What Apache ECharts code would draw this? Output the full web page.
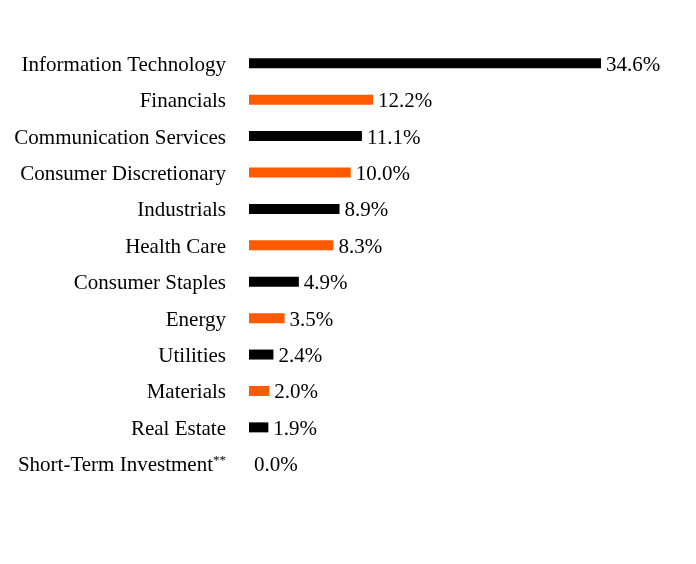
<!DOCTYPE html>
<html>
<head>
    <meta charset='utf-8'/>
    <title>Sector Allocation</title>
    <style>
        body {
            margin: 0;
            padding: 0;
            background: #fff;
        }

        #chart {
            width: 696px;
            height: 564px;
        }
    </style>
</head>
<body>
<div id='chart'></div>
<script src="https://cdn.jsdelivr.net/npm/echarts@6/dist/echarts.min.js"></script>
<script type="text/javascript">
    var sectors = ['Information Technology', 'Financials', 'Communication Services', 'Consumer Discretionary',
        'Industrials', 'Health Care', 'Consumer Staples', 'Energy', 'Utilities', 'Materials', 'Real Estate',
        'Short-Term Investment'];
    var weights = [34.6, 12.2, 11.1, 10.0, 8.9, 8.3, 4.9, 3.5, 2.4, 2.0, 1.9, 0.0];
    var footnoted = ['Short-Term Investment'];

    var palette = ['#000000', '#FF5A00'];
    var font = "'Liberation Serif', 'Times New Roman', serif";

    var chart = echarts.init(document.getElementById('chart'), null, {renderer: 'canvas'});

    var option = {
        animation: false,
        grid: {
            left: 249,
            right: 95,
            top: 45,
            bottom: 82,
            containLabel: false
        },
        xAxis: {
            type: 'value',
            min: 0,
            max: 34.6,
            show: false
        },
        yAxis: {
            type: 'category',
            inverse: true,
            data: sectors,
            axisLine: {show: false},
            axisTick: {show: false},
            splitLine: {show: false},
            axisLabel: {
                margin: 23,
                color: '#000',
                fontSize: 21,
                fontFamily: font,
                padding: [4, 0, 0, 0],
                formatter: function (v) {
                    return footnoted.indexOf(v) >= 0 ? v + '{sup|**}' : v;
                },
                rich: {
                    sup: {
                        fontSize: 13,
                        fontFamily: font,
                        color: '#000',
                        padding: [0, 0, 10, 0]
                    }
                }
            }
        },
        series: [{
            type: 'bar',
            barWidth: 10,
            data: weights,
            itemStyle: {
                color: function (p) {
                    return palette[p.dataIndex % 2];
                }
            },
            label: {
                show: true,
                position: 'right',
                distance: 5,
                offset: [0, 2],
                color: '#000',
                fontSize: 21,
                fontFamily: font,
                formatter: function (p) {
                    return p.value.toFixed(1) + '%';
                }
            }
        }]
    };

    chart.setOption(option);
</script>
</body>
</html>
